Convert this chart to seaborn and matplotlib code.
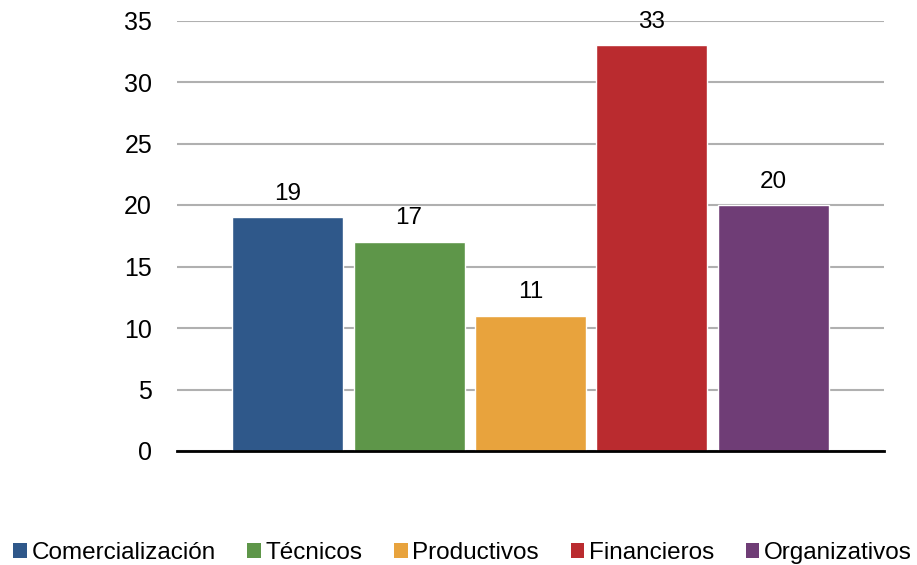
import matplotlib
matplotlib.use("Agg")
import matplotlib.pyplot as plt
import seaborn as sns
from matplotlib.patches import Patch

categories = ["Comercialización", "Técnicos", "Productivos", "Financieros", "Organizativos"]
values = [19, 17, 11, 33, 20]
colors = ["#2F588A", "#5E9649", "#E8A33D", "#BA2B2F", "#6F3D76"]
yticks = [0, 5, 10, 15, 20, 25, 30, 35]

sns.set_theme(style="white")
plt.rcParams['font.family'] = ['Liberation Sans', 'DejaVu Sans']
plt.rcParams['text.color'] = 'black'
plt.rcParams['ytick.color'] = 'black'
plt.rcParams['ytick.labelcolor'] = 'black'

fig = plt.figure(figsize=(9.17, 5.65), dpi=100)
ax = fig.add_axes([177/917, 1 - 451/565, (884 - 177)/917, (451 - 20.5)/565])

sns.barplot(x=categories, y=values, hue=categories, palette=colors,
            width=0.914, legend=False, ax=ax, saturation=1)

for c in ax.containers:
    ax.bar_label(c, padding=9, fontsize=17.5, color="black")

ax.set_ylim(0, 35)
ax.set_xlim(-0.91, 4.91)
ax.set_yticks(yticks)
ax.set_yticklabels([str(t) for t in yticks], fontsize=18, color="black")
ax.set_xticks([])
ax.tick_params(axis="y", length=0, pad=18)
ax.yaxis.grid(True, color="#B0B0B0", linewidth=1.5)
ax.set_axisbelow(True)
for s in ["top", "right", "left"]:
    ax.spines[s].set_visible(False)
ax.spines["bottom"].set_color("black")
ax.spines["bottom"].set_linewidth(2)
ax.set_xlabel("")
ax.set_ylabel("")

handles = [Patch(facecolor=c, edgecolor="none") for c in colors]
fig.legend(handles, categories, loc="lower left", bbox_to_anchor=(-0.004, -0.028),
           ncol=5, frameon=False, fontsize=17.5, handlelength=0.55, handleheight=0.55,
           handletextpad=0.2, columnspacing=1.3, borderpad=0.2)

fig.savefig("out.png", dpi=100)
